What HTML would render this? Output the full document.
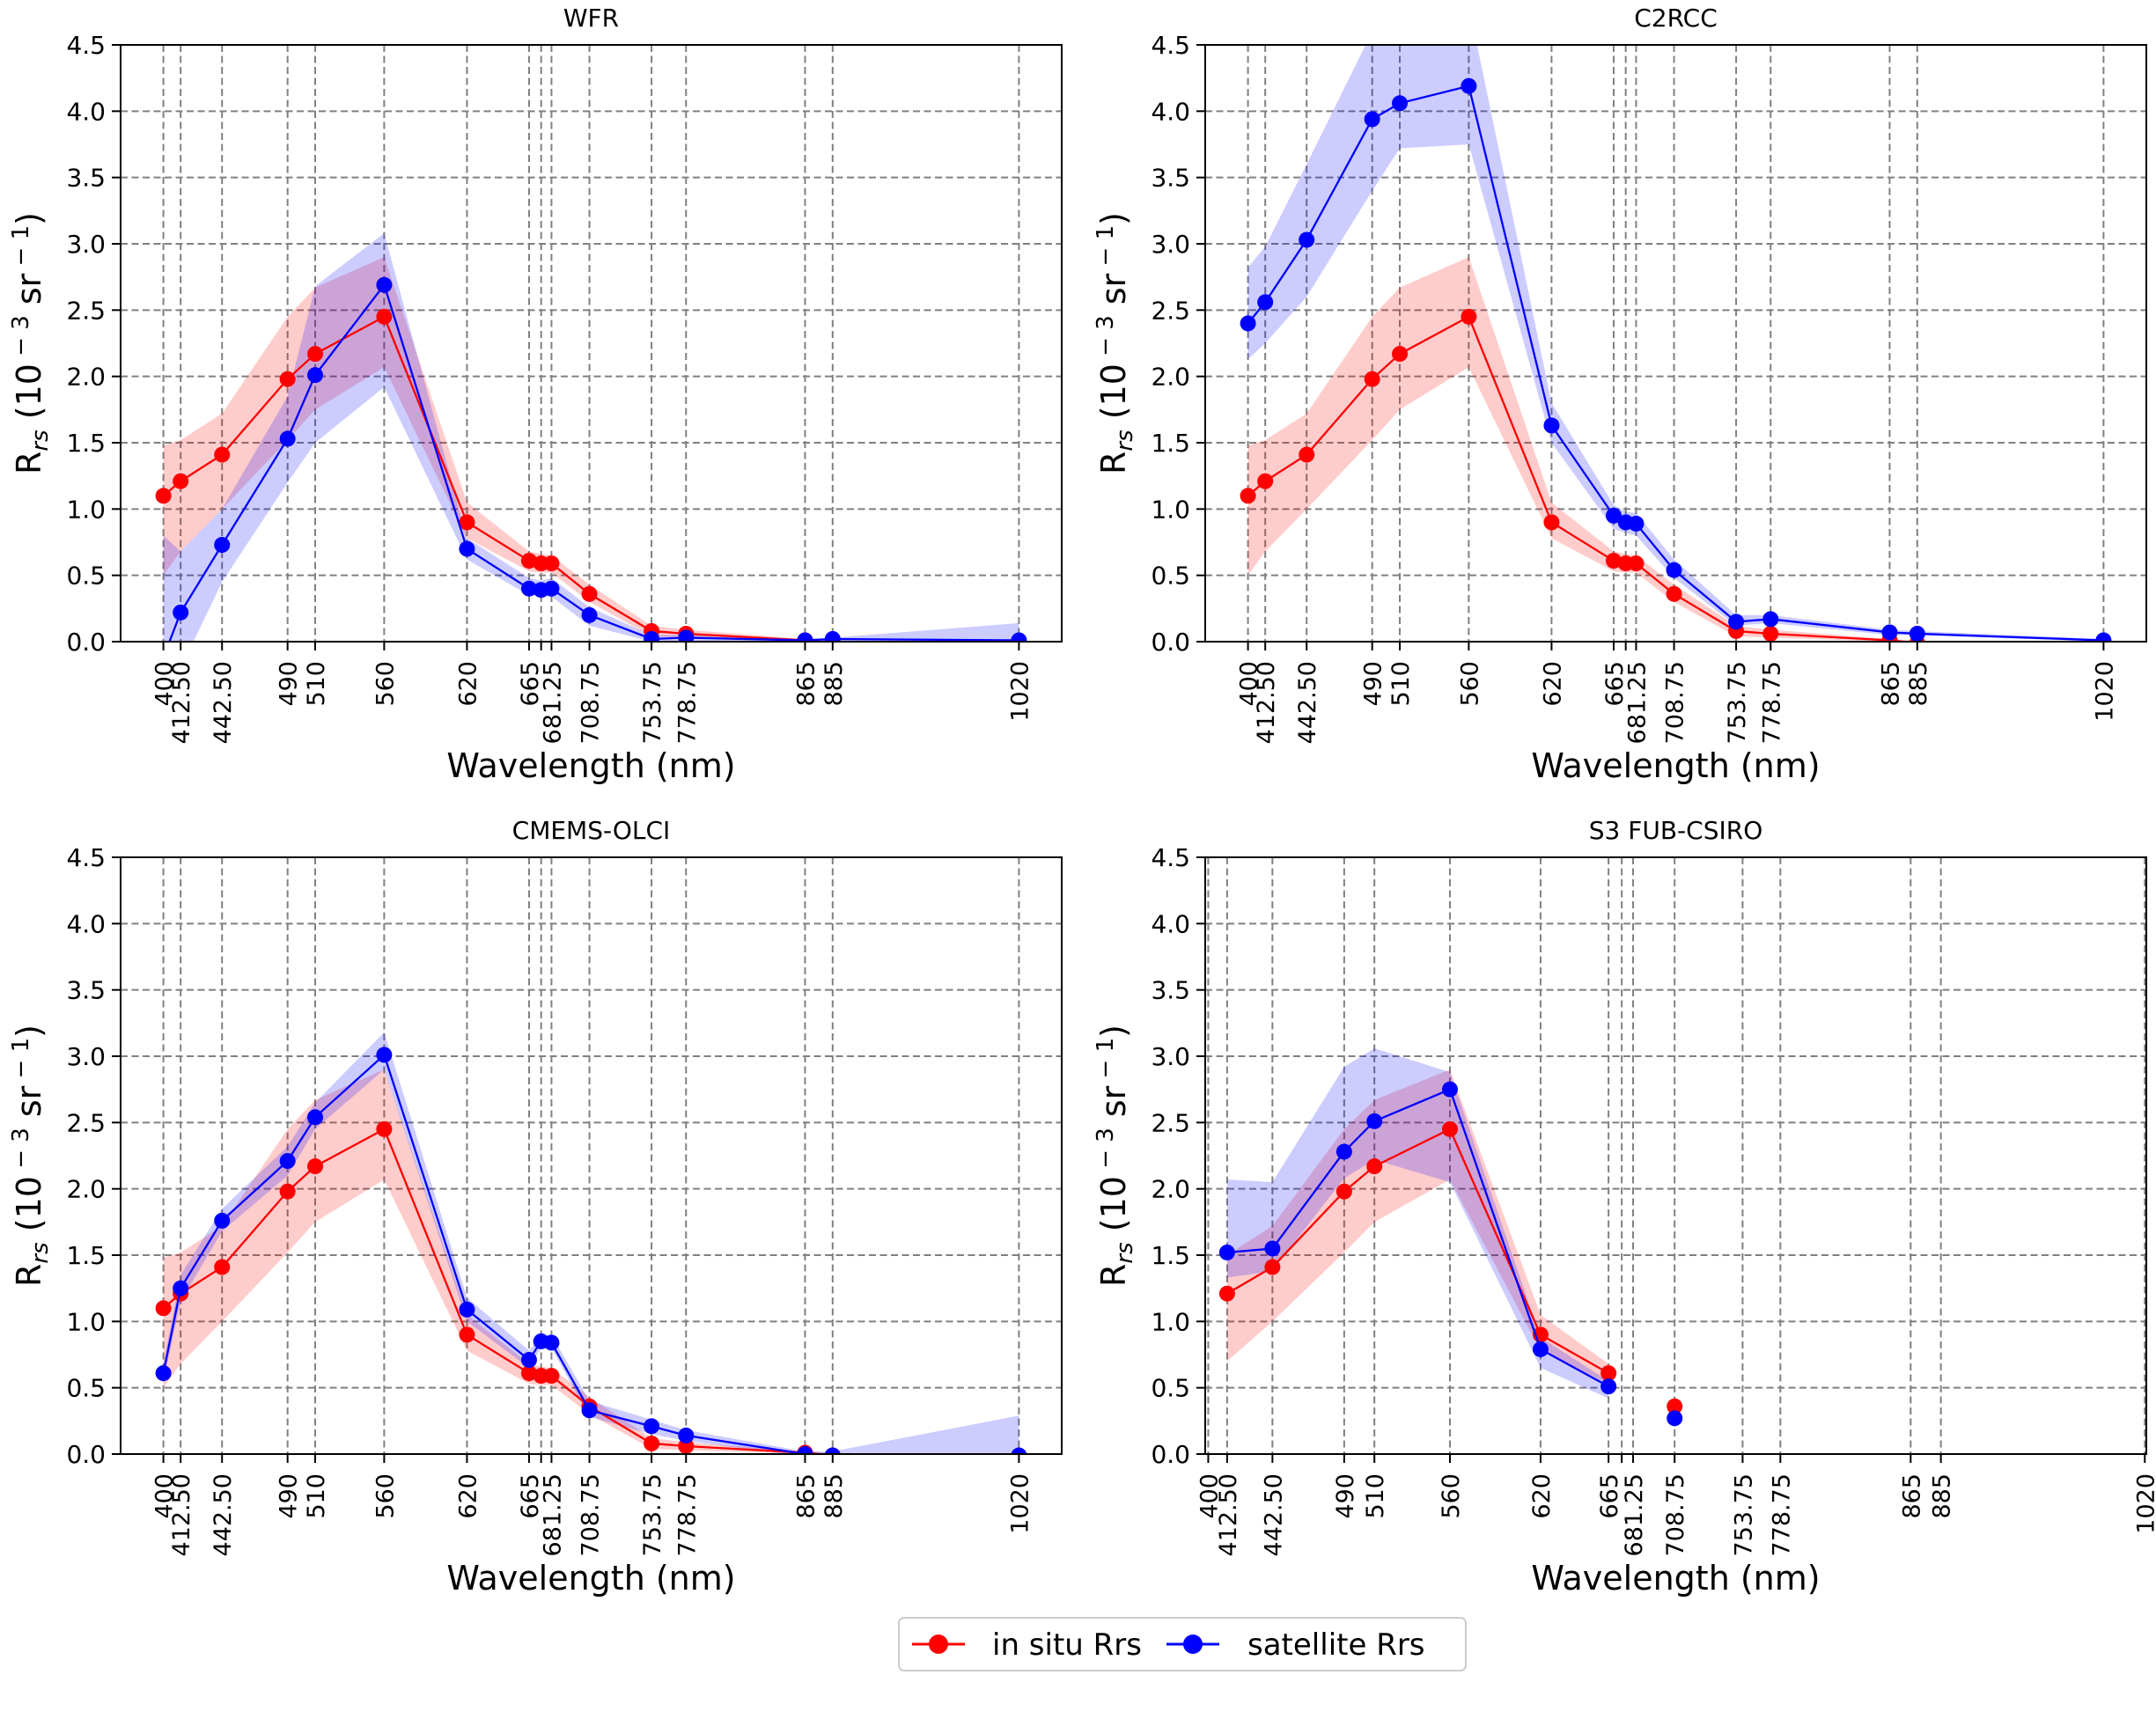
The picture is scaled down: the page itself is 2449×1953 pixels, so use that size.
<!DOCTYPE html>
<html><head><meta charset="utf-8"><style>
html,body{margin:0;padding:0;background:#fff}
svg{display:block;font-family:"DejaVu Sans","Liberation Sans",sans-serif}
</style></head><body>
<svg id="fig" width="2449" height="1953" viewBox="0 0 2449 1953" xmlns="http://www.w3.org/2000/svg">
<g>
<rect x="1021" y="1838" width="644" height="60" rx="6" fill="#fff" stroke="#ccc" stroke-width="2"/>
<line x1="1036" y1="1868" x2="1096" y2="1868" stroke="#f00" stroke-width="3"/>
<circle cx="1066" cy="1868" r="11" fill="#f00"/>
<text x="1127" y="1880" font-size="34">in situ Rrs</text>
<line x1="1325" y1="1868" x2="1385" y2="1868" stroke="#00f" stroke-width="3"/>
<circle cx="1355" cy="1868" r="11" fill="#00f"/>
<text x="1417" y="1880" font-size="34">satellite Rrs</text>
</g>
</svg>
<script>
const wl=[400,412.5,442.5,490,510,560,620,665,673.75,681.25,708.75,753.75,778.75,865,885,1020];
const tickLabels=["400","412.50","442.50","490","510","560","620","665","","681.25","708.75","753.75","778.75","865","885","1020"];
const yTicks=[0,0.5,1,1.5,2,2.5,3,3.5,4,4.5];
const insitu=[1.10,1.21,1.41,1.98,2.17,2.45,0.90,0.61,0.59,0.59,0.36,0.08,0.06,0.01,-0.01,null];
const insituLo=[0.5,0.68,1.0,1.52,1.75,2.07,0.78,0.53,0.52,0.52,0.30,0.04,0.03,0,-0.02,null];
const insituHi=[1.48,1.52,1.72,2.45,2.67,2.9,1.05,0.68,0.66,0.65,0.43,0.12,0.09,0.02,0.01,null];
const wfr=[-0.12,0.22,0.73,1.53,2.01,2.69,0.70,0.40,0.39,0.40,0.20,0.02,0.03,0.01,0.02,0.01];
const wfrLo=[-0.5,-0.2,0.45,1.2,1.5,1.92,0.62,0.35,0.34,0.34,0.12,0,0,0,0,-0.1];
const wfrHi=[0.8,0.68,1.0,1.85,2.68,3.08,0.78,0.48,0.46,0.48,0.26,0.05,0.05,0.02,0.03,0.14];
const c2=[2.40,2.56,3.03,3.94,4.06,4.19,1.63,0.95,0.90,0.89,0.54,0.15,0.17,0.07,0.06,0.01];
const c2Lo=[2.13,2.25,2.6,3.4,3.72,3.75,1.5,0.85,0.82,0.8,0.48,0.12,0.14,0.05,0.05,0];
const c2Hi=[2.82,2.98,3.6,4.6,4.7,4.8,1.8,1.03,0.98,0.97,0.62,0.2,0.2,0.09,0.08,0.02];
const cm=[0.61,1.25,1.76,2.21,2.54,3.01,1.09,0.71,0.85,0.84,0.33,0.21,0.14,0.0,-0.01,-0.01];
const cmLo=[0.55,1.15,1.68,2.1,2.45,2.9,1.0,0.65,0.8,0.8,0.28,0.15,0.1,-0.02,-0.03,-0.3];
const cmHi=[0.68,1.35,1.85,2.32,2.65,3.18,1.18,0.78,0.9,0.9,0.4,0.26,0.18,0.02,0.02,0.29];
const s3=[null,1.52,1.55,2.28,2.51,2.75,0.79,0.51,null,null,0.27,null,null,null,null,null];
const s3Lo=[null,1.33,1.38,2.08,2.22,2.05,0.65,0.42,null,null,null,null,null,null,null,null];
const s3Hi=[null,2.07,2.05,2.92,3.06,2.88,0.88,0.55,null,null,null,null,null,null,null,null];
const s3In=[null,1.21,1.41,1.98,2.17,2.45,0.90,0.61,null,null,0.36,null,null,null,null,null];
const s3InLo=[null,0.7,1.0,1.52,1.75,2.07,0.78,0.53,null,null,null,null,null,null,null,null];
const s3InHi=[null,1.5,1.72,2.45,2.67,2.9,1.05,0.68,null,null,null,null,null,null,null,null];

const NS="http://www.w3.org/2000/svg";
const svg=document.getElementById('fig');
function mk(tag,attrs,parent){const e=document.createElementNS(NS,tag);for(const k in attrs)e.setAttribute(k,attrs[k]);(parent||svg).appendChild(e);return e;}
const panels=[
 {id:'wfr',title:'WFR',L:137,R:1206,T:51,B:729,xmin:369,xmax:1051,sat:wfr,lo:wfrLo,hi:wfrHi,ins:insitu,ilo:insituLo,ihi:insituHi},
 {id:'c2rcc',title:'C2RCC',L:1369,R:2438,T:51,B:729,xmin:369,xmax:1051,sat:c2,lo:c2Lo,hi:c2Hi,ins:insitu,ilo:insituLo,ihi:insituHi},
 {id:'cmems',title:'CMEMS-OLCI',L:137,R:1206,T:974,B:1652,xmin:369,xmax:1051,sat:cm,lo:cmLo,hi:cmHi,ins:insitu,ilo:insituLo,ihi:insituHi},
 {id:'s3',title:'S3 FUB-CSIRO',L:1369,R:2438,T:974,B:1652,xmin:398,xmax:1021,sat:s3,lo:s3Lo,hi:s3Hi,ins:s3In,ilo:s3InLo,ihi:s3InHi}
];
function segs(a,b){const out=[];let cur=[];for(let i=0;i<wl.length;i++){if(a[i]!=null&&(b==null||b[i]!=null))cur.push(i);else{if(cur.length)out.push(cur);cur=[];}}if(cur.length)out.push(cur);return out;}
panels.forEach((p,pi)=>{
 const X=v=>p.L+(v-p.xmin)/(p.xmax-p.xmin)*(p.R-p.L);
 const Y=v=>p.B-v/4.5*(p.B-p.T);
 const g=mk('g',{});
 
 
 const cp=mk('clipPath',{id:'clip'+pi},g);
 mk('rect',{x:p.L,y:p.T,width:p.R-p.L,height:p.B-p.T},cp);
 const t=mk('text',{x:(p.L+p.R)/2,y:p.T-21,'font-size':28,'text-anchor':'middle'},g);t.textContent=p.title;
 
 
 const grid=mk('g',{stroke:'#808080','stroke-width':2,'stroke-dasharray':'8,4.5'},g);
 
 
 yTicks.forEach(v=>{mk('line',{x1:p.L,x2:p.R,y1:Y(v),y2:Y(v)},grid);
  mk('line',{x1:p.L-10,x2:p.L,y1:Y(v),y2:Y(v),stroke:'#000','stroke-width':2},g);
  const tl=mk('text',{x:p.L-17,y:Y(v)+10,'font-size':28,'text-anchor':'end'},g);tl.textContent=v.toFixed(1);
  
  });
 wl.forEach((w,i)=>{mk('line',{x1:X(w),x2:X(w),y1:p.T,y2:p.B},grid);
  mk('line',{x1:X(w),x2:X(w),y1:p.B,y2:p.B+10,stroke:'#000','stroke-width':2},g);
  if(tickLabels[i]){const tl=mk('text',{transform:`translate(${X(w)+10},${p.B+22}) rotate(-90)`,'font-size':27,'text-anchor':'end'},g);tl.textContent=tickLabels[i];
  
  }});
 const data=mk('g',{'clip-path':`url(#clip${pi})`},g);
 [[p.ilo,p.ihi,'rgba(255,0,0,0.2)'],[p.lo,p.hi,'rgba(0,0,255,0.2)']].forEach(([lo,hi,c],k)=>{
  segs(lo,hi).forEach(s=>{if(s.length<2)return;let d='M'+s.map(i=>X(wl[i])+','+Y(hi[i])).join('L')+'L'+s.slice().reverse().map(i=>X(wl[i])+','+Y(lo[i])).join('L')+'Z';
   const a=mk('path',{d:d,fill:c},data);
   
   });});
 [[p.ins,'#f00','insitu'],[p.sat,'#00f','satellite']].forEach(([arr,c,n])=>{
  segs(arr,null).forEach(s=>{if(s.length<2)return;const l=mk('polyline',{points:s.map(i=>X(wl[i])+','+Y(arr[i])).join(' '),fill:'none',stroke:c,'stroke-width':2.3},data);
   
   });
  arr.forEach((v,i)=>{if(v==null)return;const m=mk('circle',{cx:X(wl[i]),cy:Y(v),r:9,fill:c},data);
   
   });});
 mk('rect',{x:p.L,y:p.T,width:p.R-p.L,height:p.B-p.T,fill:'none',stroke:'#000','stroke-width':2},g);
 const xl=mk('text',{x:(p.L+p.R)/2,y:p.B+154,'font-size':38,'text-anchor':'middle'},g);xl.textContent='Wavelength (nm)';
 
 
 const yl=mk('text',{transform:`translate(${p.L-91},${(p.T+p.B)/2}) rotate(-90)`,'font-size':38,'text-anchor':'middle'},g);
 
 
 yl.innerHTML='R<tspan font-size="26" font-style="italic" dy="8">rs</tspan><tspan dy="-8"> (10</tspan><tspan font-size="26" dy="-14"> − 3</tspan><tspan dy="14"> sr</tspan><tspan font-size="26" dy="-14"> − 1</tspan><tspan dy="14">)</tspan>';
});
</script>
</body></html>
